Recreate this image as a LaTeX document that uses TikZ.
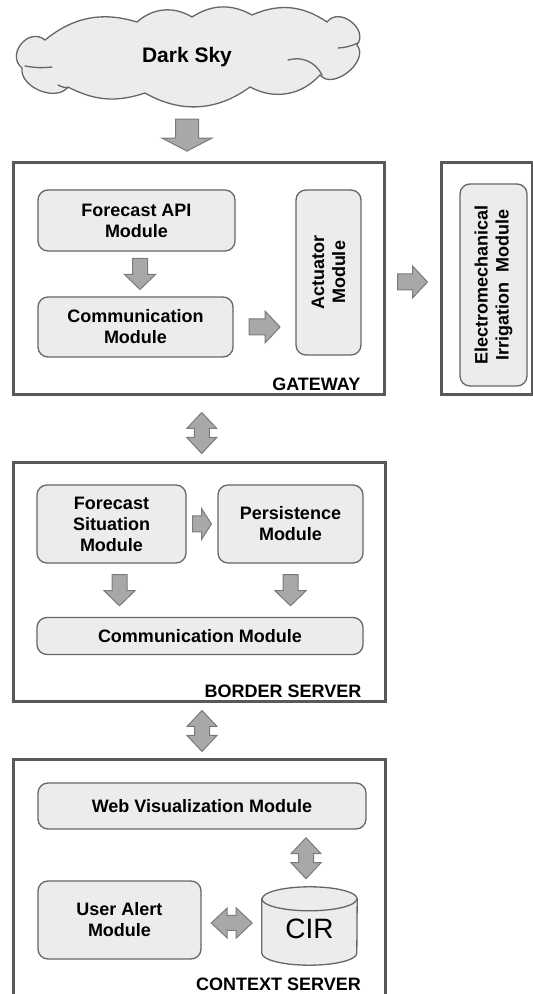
\documentclass[tikz,border=0pt]{standalone}
\usepackage{fontspec}
\setmainfont{Liberation Sans}
\usetikzlibrary{calc}

\definecolor{modfill}{HTML}{ECECEE}
\definecolor{moddraw}{HTML}{666666}
\definecolor{tierdraw}{HTML}{595959}
\definecolor{arrfill}{HTML}{A8A8A8}
\definecolor{arrdraw}{HTML}{7A7A7A}

\newcommand{\modfont}{\bfseries\fontsize{18pt}{21pt}\selectfont}
\newcommand{\skyfont}{\bfseries\fontsize{21pt}{24pt}\selectfont}
\newcommand{\cirfont}{\fontsize{28pt}{30pt}\selectfont}

\tikzset{
  module/.style={draw=moddraw, fill=modfill, line width=1.3pt, rounded corners=10pt,
    align=center, font=\modfont, inner sep=0pt},
  tier/.style={draw=tierdraw, line width=3pt, inner sep=0pt},
  tierlabel/.style={font=\modfont, anchor=base east, inner sep=0pt},
  cloudline/.style={draw=moddraw, line width=1.3pt, line cap=round},
  arrowbody/.style={draw=arrdraw, fill=arrfill, line width=1pt},
  pics/blkarrow/.style n args={4}{code={
    \draw[arrowbody] (-#1/2,-#3/2) -- (#1/2-#4,-#3/2) -- (#1/2-#4,-#2/2) -- (#1/2,0)
      -- (#1/2-#4,#2/2) -- (#1/2-#4,#3/2) -- (-#1/2,#3/2) -- cycle;
  }},
  pics/dblarrow/.style n args={4}{code={
    \draw[arrowbody] (-#1/2,0) -- (-#1/2+#4,#2/2) -- (-#1/2+#4,#3/2) -- (#1/2-#4,#3/2)
      -- (#1/2-#4,#2/2) -- (#1/2,0) -- (#1/2-#4,-#2/2) -- (#1/2-#4,-#3/2)
      -- (-#1/2+#4,-#3/2) -- (-#1/2+#4,-#2/2) -- cycle;
  }},
}

\begin{document}
\begin{tikzpicture}[x=1pt,y=1pt]

\useasboundingbox (0,0) rectangle (533,994);
\clip (0,0) rectangle (533,994);

% cloud
\draw[cloudline, fill=modfill] (45,954)
  to[bend left=28] (137,972)
  to[bend left=36] (192,977)
  to[bend left=31] (252,979)
  to[bend left=29] (327,972)
  to[bend left=90, looseness=1.35] (357,949)
  to[bend left=90, looseness=1.1] (320,919)
  to[bend left=38] (250,907)
  to[bend left=33] (145,901)
  to[bend left=23] (68,907)
  to[bend left=75] (22,926)
  to[bend left=90, looseness=1.5] (45,954) -- cycle;
\draw[cloudline] (25,928) to[bend right=8] (52,927);
\draw[cloudline] (58,909) to[bend right=10] (68,906);
\draw[cloudline] (288,934) to[bend left=40] (322,919);
\draw[cloudline] (338,946) to[bend right=10] (358,951);
\node[font=\skyfont, minimum width=349pt, minimum height=103pt, inner sep=0pt] (sky) at (187,937) {Dark Sky};

% tiers
\node[tier, minimum width=371pt, minimum height=232pt] (gw) at (198.5,715) {};
\node[tier, minimum width=91pt, minimum height=232pt] (em) at (486.5,715) {};
\node[tier, minimum width=372pt, minimum height=239pt] (bs) at (199,411.5) {};
\node[tier, minimum width=372pt, minimum height=250pt] (cs) at (199,109) {};

\node[tierlabel] (gwlabel) at ($(gw.south east)+(-25,6)$) {GATEWAY};
\node[tierlabel] (bslabel) at ($(bs.south east)+(-25,6)$) {BORDER SERVER};
\node[tierlabel] (cslabel) at (361,3) {CONTEXT SERVER};

% modules
\node[module, minimum width=197pt, minimum height=61pt] (fapi) at (136.5,773.5) {Forecast API\\Module};
\node[module, minimum width=195pt, minimum height=60pt] (gwcomm) at (135.5,667) {Communication\\Module};
\node[module, rotate=90, minimum width=165pt, minimum height=65pt] (act) at (328.5,721.5) {Actuator\\Module};
\node[module, rotate=90, minimum width=202pt, minimum height=67pt] (irrig) at (493.5,709) {Electromechanical\\Irrigation\ \ Module};

\node[module, minimum width=149pt, minimum height=78pt] (fsit) at (111.5,470) {Forecast\\Situation\\Module};
\node[module, minimum width=145pt, minimum height=78pt] (pers) at (290.5,470) {Persistence\\Module};
\node[module, minimum width=326pt, minimum height=37pt] (bscomm) at (200,358) {Communication Module};

\node[module, minimum width=328pt, minimum height=46pt] (webvis) at (202,188) {Web Visualization Module};
\node[module, minimum width=163pt, minimum height=78pt] (alert) at (119.5,74) {User Alert\\Module};

\node[minimum width=95pt, minimum height=78pt, inner sep=0pt] (cir) at (309.5,68) {};
\draw[draw=moddraw, fill=modfill, line width=1.3pt]
  ($(cir.north west)+(0,-12)$) -- ($(cir.south west)+(0,12)$)
  arc[start angle=180, end angle=360, x radius=47.5, y radius=12]
  -- ($(cir.north east)+(0,-12)$)
  arc[start angle=0, end angle=180, x radius=47.5, y radius=12] -- cycle;
\draw[draw=moddraw, line width=1.3pt] ($(cir.north west)+(0,-12)$)
  arc[start angle=180, end angle=360, x radius=47.5, y radius=12];
\node[font=\cirfont, inner sep=0pt] (cirlabel) at ($(cir.center)+(0,-3)$) {CIR};

% arrows
\pic[rotate=-90] at ($(sky.south)!.5!(sky.south |- gw.north)$) {blkarrow={32}{50}{23}{13}};
\pic[rotate=-90] at ($(fapi.south)!.5!(gwcomm.north)+(4,0)$) {blkarrow={31}{31}{15}{15}};
\pic at ($(gwcomm.east)!.5!(gwcomm.east -| act.north)$) {blkarrow={31}{32}{16}{15}};
\pic at ($(gw.east)!.5!(em.west)+(0,-3)$) {blkarrow={30}{32}{16}{15}};
\pic[rotate=90] at ($(gw.south)!.5!(bs.north)+(3,-4)$) {dblarrow={41}{30}{15}{16}};

\pic at ($(fsit.east)!.5!(pers.west)$) {blkarrow={19}{31}{16}{10}};
\pic[rotate=-90] at ($(fsit.south)!.5!(fsit.south |- bscomm.north)+(8,0)$) {blkarrow={31}{31}{15}{15}};
\pic[rotate=-90] at ($(pers.south)!.5!(pers.south |- bscomm.north)$) {blkarrow={31}{31}{15}{15}};
\pic[rotate=90] at ($(bs.south)!.5!(cs.north)+(3,0)$) {dblarrow={41}{30}{15}{16}};

\pic[rotate=90] at ($(cir.north |- webvis.south)!.5!(cir.north)+(-3.5,0)$) {dblarrow={41}{30}{15}{16}};
\pic at ($(alert.east)!.5!(cir.west)$) {dblarrow={41}{30}{15}{16}};

\end{tikzpicture}
\end{document}
